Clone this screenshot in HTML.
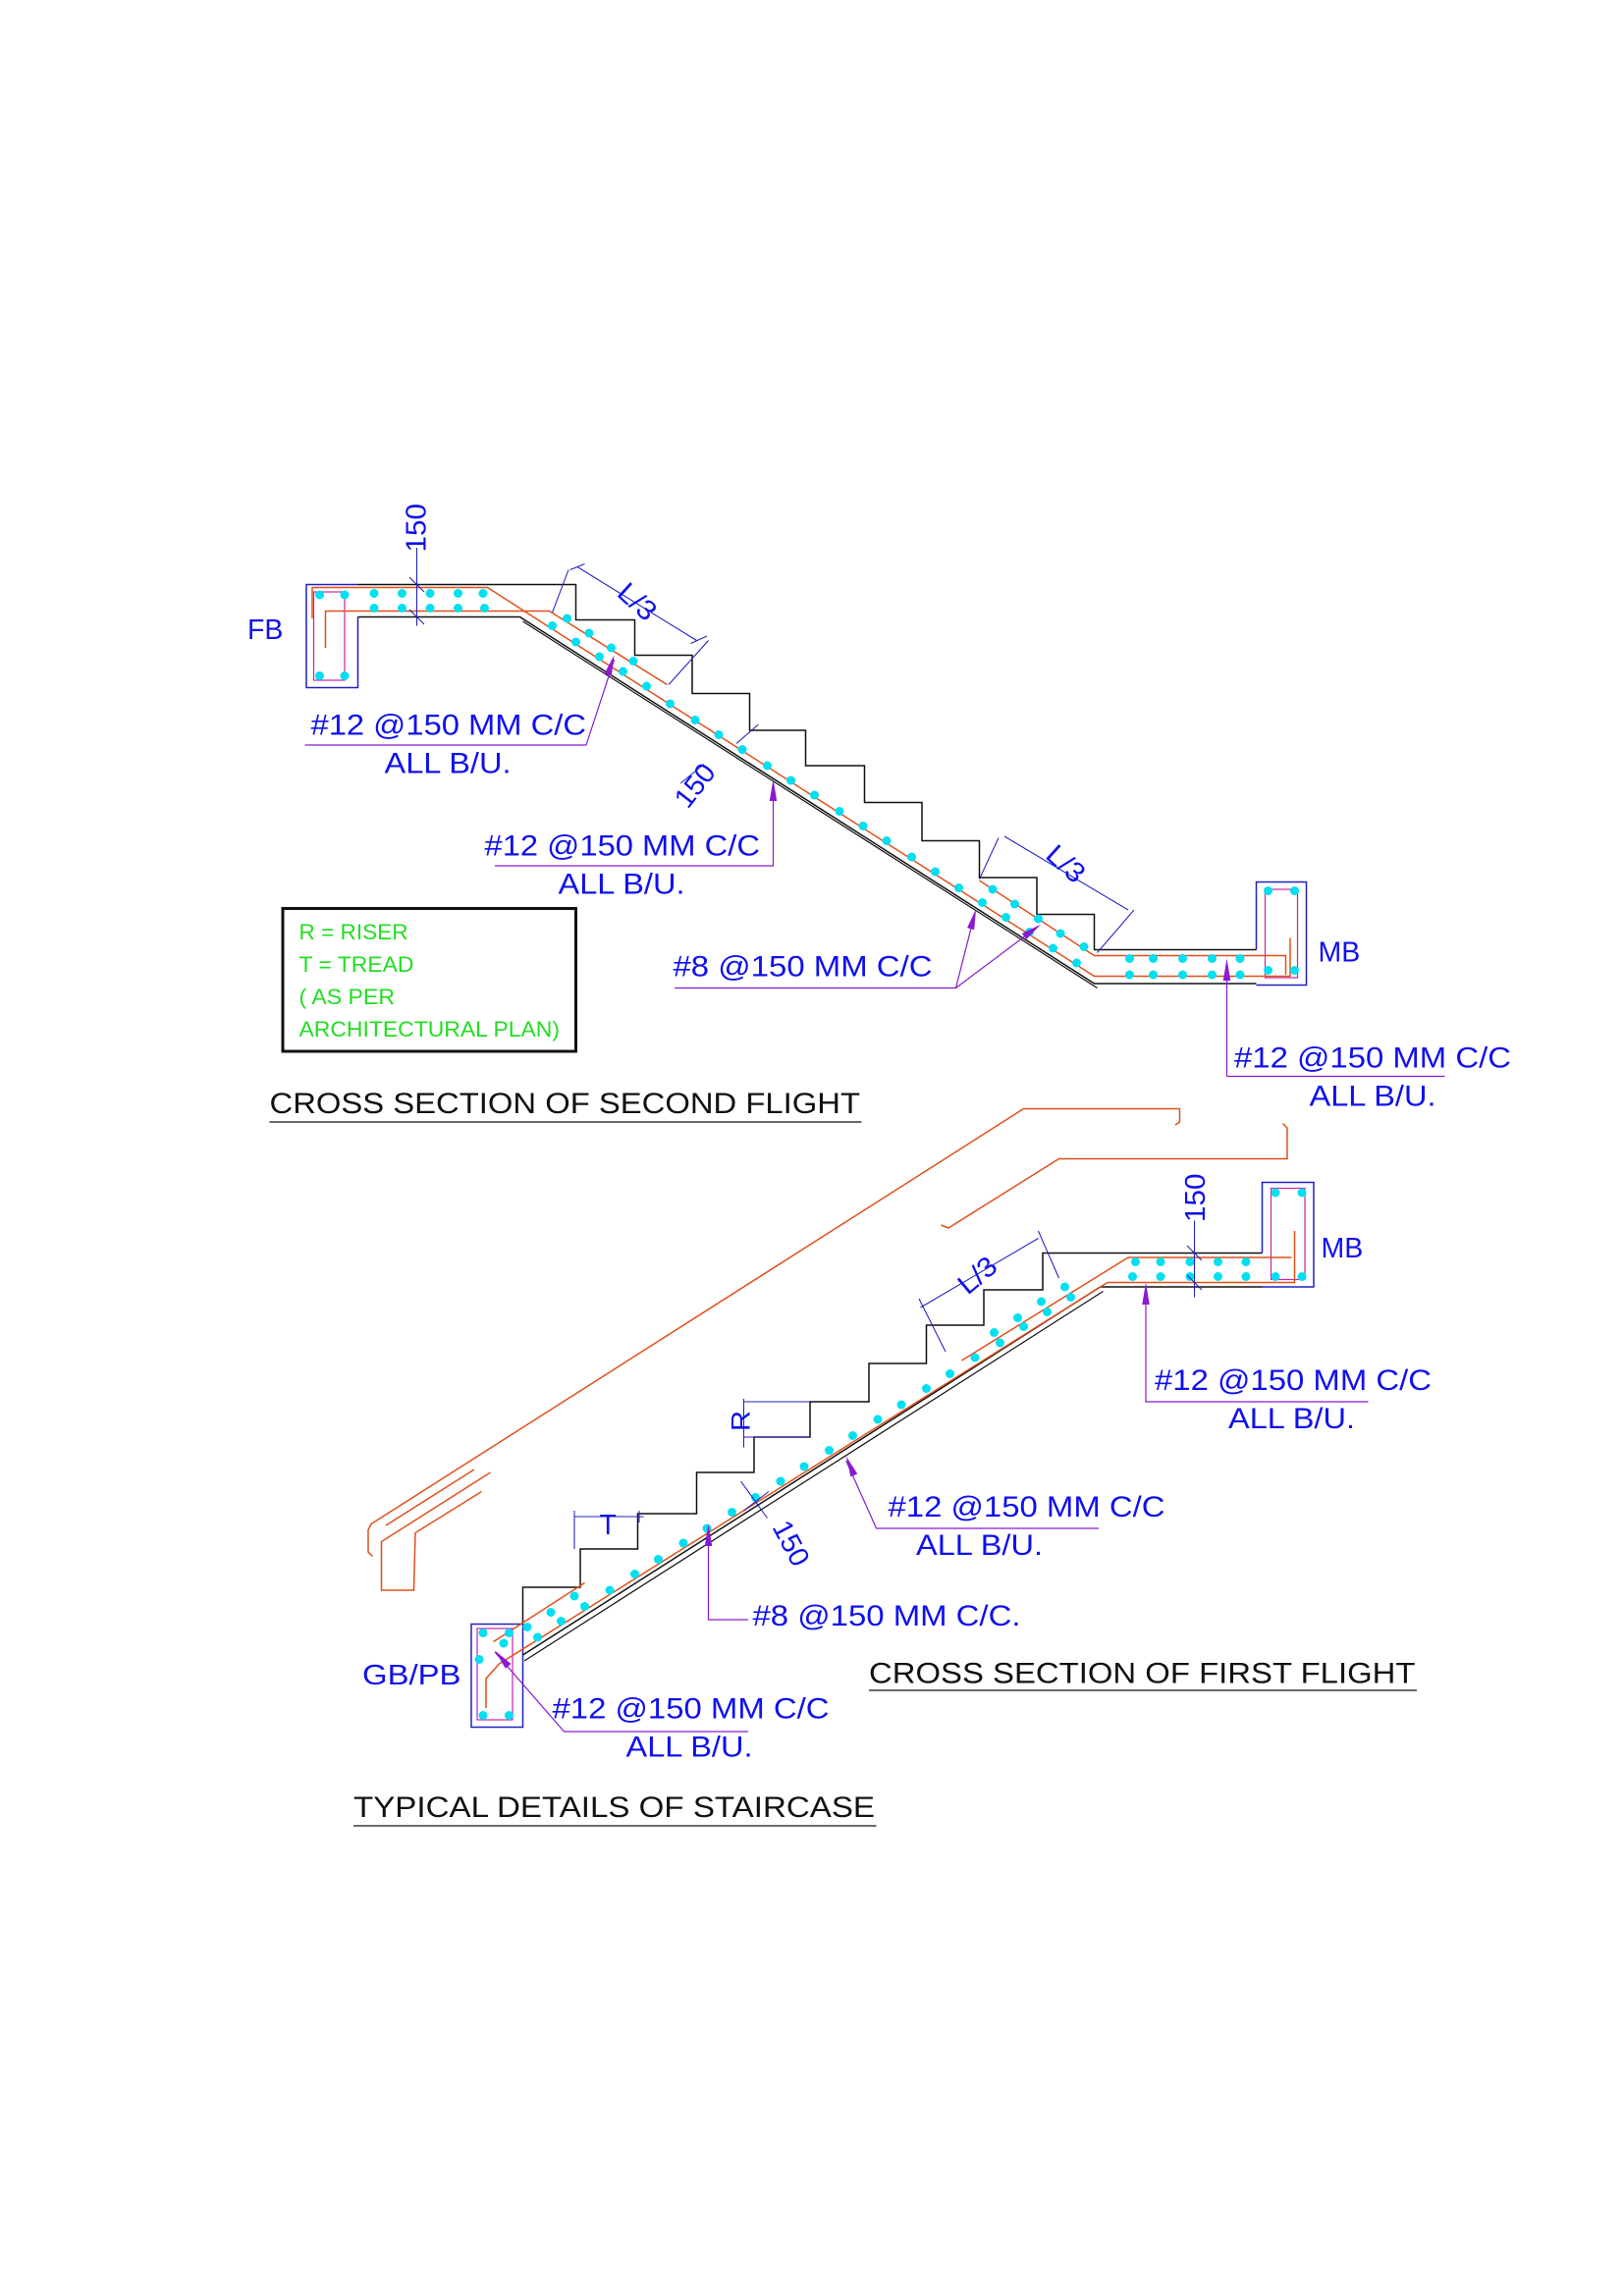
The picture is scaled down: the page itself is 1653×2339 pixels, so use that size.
<!DOCTYPE html>
<html><head><meta charset="utf-8"><style>
html,body{margin:0;padding:0;background:#fff;}
svg{display:block;}
text{font-family:"Liberation Sans",sans-serif;}
.b{fill:#1010ee;}
.k{fill:#111;}
.g{fill:#22dd22;}
</style></head><body>
<svg width="1653" height="2339" viewBox="0 0 1102 1559.33" preserveAspectRatio="none" xmlns="http://www.w3.org/2000/svg">
<rect width="1102" height="1560" fill="#fff"/>

<!-- ========== SECOND FLIGHT ========== -->
<!-- FB beam -->
<polyline points="243,397 208,397 208,467 243,467 243,419" fill="none" stroke="#2020c0" stroke-width="1"/>
<!-- slab & steps -->
<polyline points="243,397 391,397 391,421 431,421 431,445 470,445 470,471 509,471 509,496 547,496 547,520 587,520 587,545 626,545 626,571 665,571 665,596 704,596 704,621 743,621 743,645 853,645" fill="none" stroke="#111" stroke-width="1"/>
<polyline points="243,419 353,419 743,668 853,668" fill="none" stroke="#111" stroke-width="1"/>
<line x1="355" y1="422" x2="745" y2="671" stroke="#111" stroke-width="0.8"/>
<!-- MB beam -->
<polyline points="853,645 853,599 887,599 887,669 853,669" fill="none" stroke="#2020c0" stroke-width="1"/>
<!-- stirrups -->
<rect x="213" y="402" width="21" height="60" fill="none" stroke="#cc22aa" stroke-width="0.8"/>
<rect x="859" y="604" width="22" height="60" fill="none" stroke="#cc22aa" stroke-width="0.8"/>
<!-- orange bars -->
<polyline points="212,420 212,399 331,399 743,663 876,663 876,637" fill="none" stroke="#e0501a" stroke-width="1"/>
<polyline points="221,440 221,415 373,415 453,465" fill="none" stroke="#e0501a" stroke-width="1"/>
<polyline points="665,598 743,649 873,649 873,662" fill="none" stroke="#e0501a" stroke-width="1"/>
<!-- dots -->
<g fill="#00e0f0">
<circle cx="217" cy="404" r="3"/><circle cx="234" cy="404" r="3"/><circle cx="254" cy="403" r="3"/><circle cx="273" cy="403" r="3"/><circle cx="292" cy="403" r="3"/><circle cx="311" cy="403" r="3"/><circle cx="328" cy="403" r="3"/>
<circle cx="254" cy="413" r="3"/><circle cx="273" cy="413" r="3"/><circle cx="292" cy="413" r="3"/><circle cx="311" cy="413" r="3"/><circle cx="329" cy="413" r="3"/>
<circle cx="217" cy="459" r="3"/><circle cx="234" cy="459" r="3"/>
<circle cx="375" cy="425" r="3"/><circle cx="391" cy="436" r="3"/><circle cx="407" cy="446" r="3"/><circle cx="423" cy="456" r="3"/><circle cx="439" cy="466" r="3"/>
<circle cx="385" cy="420" r="3"/><circle cx="400" cy="430" r="3"/><circle cx="415" cy="440" r="3"/><circle cx="430" cy="449" r="3"/>
<circle cx="455" cy="478" r="3"/><circle cx="472" cy="489" r="3"/><circle cx="488" cy="499" r="3"/><circle cx="504" cy="509" r="3"/><circle cx="521" cy="520" r="3"/><circle cx="537" cy="530" r="3"/><circle cx="553" cy="540" r="3"/><circle cx="570" cy="551" r="3"/><circle cx="586" cy="561" r="3"/><circle cx="602" cy="571" r="3"/><circle cx="619" cy="582" r="3"/><circle cx="635" cy="592" r="3"/><circle cx="651" cy="603" r="3"/>
<circle cx="667" cy="613" r="3"/><circle cx="683" cy="623" r="3"/><circle cx="699" cy="633" r="3"/><circle cx="715" cy="644" r="3"/><circle cx="731" cy="654" r="3"/>
<circle cx="674" cy="604" r="3"/><circle cx="689" cy="614" r="3"/><circle cx="705" cy="624" r="3"/><circle cx="720" cy="634" r="3"/><circle cx="736" cy="643" r="3"/>
<circle cx="767" cy="651" r="3"/><circle cx="783" cy="651" r="3"/><circle cx="803" cy="651" r="3"/><circle cx="823" cy="651" r="3"/><circle cx="842" cy="651" r="3"/>
<circle cx="767" cy="662" r="3"/><circle cx="783" cy="662" r="3"/><circle cx="803" cy="662" r="3"/><circle cx="823" cy="662" r="3"/><circle cx="842" cy="662" r="3"/>
<circle cx="861" cy="605" r="3"/><circle cx="879" cy="605" r="3"/><circle cx="861" cy="659" r="3"/><circle cx="879" cy="659" r="3"/>
</g>
<!-- dims -->
<g stroke="#2020c0" stroke-width="0.7" fill="none">
<line x1="283" y1="372" x2="283" y2="425"/>
<line x1="278" y1="392" x2="288" y2="402"/><line x1="278" y1="414" x2="288" y2="424"/>
<line x1="392" y1="385" x2="473" y2="435"/>
<line x1="386" y1="387" x2="375" y2="416"/><line x1="481" y1="435" x2="454" y2="465"/>
<line x1="387" y1="387" x2="397" y2="383"/><line x1="469" y1="437" x2="480" y2="432"/>
<line x1="682" y1="568" x2="766" y2="618"/>
<line x1="678" y1="569" x2="665" y2="597"/><line x1="770" y1="618" x2="745" y2="647"/>
<line x1="500" y1="505" x2="515" y2="492"/><line x1="462" y1="532" x2="478" y2="519"/>
</g>
<text x="0" y="0" class="b" font-size="19" transform="translate(289,375) rotate(-90)" textLength="33" lengthAdjust="spacingAndGlyphs">150</text>
<text x="0" y="0" class="b" font-size="19" transform="translate(418,404) rotate(42)" textLength="28" lengthAdjust="spacingAndGlyphs">L/3</text>
<text x="0" y="0" class="b" font-size="19" transform="translate(709,582) rotate(42)" textLength="28" lengthAdjust="spacingAndGlyphs">L/3</text>
<text x="0" y="0" class="b" font-size="19" transform="translate(467,550) rotate(-52)" textLength="32" lengthAdjust="spacingAndGlyphs">150</text>
<text x="168" y="434" class="b" font-size="19">FB</text>
<text x="895" y="653" class="b" font-size="19">MB</text>
<!-- leaders -->
<g stroke="#8a1ad0" stroke-width="0.8" fill="none">
<polyline points="207,506 398,506 417,448"/>
<polyline points="336,588 525,588 525,533"/>
<polyline points="458,671 649,671 662,620"/>
<line x1="649" y1="671" x2="705" y2="629"/>
<polyline points="833,731 981,731"/><line x1="833" y1="731" x2="833" y2="655"/>
</g>
<g fill="#8a1ad0">
<polygon points="417,445 415.2,459 410.4,457.5"/>
<polygon points="525,529 522.5,544 527.5,544"/>
<polygon points="662.7,617.3 661.5,631.4 656.7,630.2"/>
<polygon points="706.7,627.8 696.9,638 693.9,634"/>
<polygon points="833,651 830.5,666 835.5,666"/>
</g>
<text x="211" y="499" class="b" font-size="20" textLength="187" lengthAdjust="spacingAndGlyphs">#12 @150 MM C/C</text>
<text x="261" y="525" class="b" font-size="20" textLength="86" lengthAdjust="spacingAndGlyphs">ALL B/U.</text>
<text x="329" y="581" class="b" font-size="20" textLength="187" lengthAdjust="spacingAndGlyphs">#12 @150 MM C/C</text>
<text x="379" y="607" class="b" font-size="20" textLength="86" lengthAdjust="spacingAndGlyphs">ALL B/U.</text>
<text x="457" y="663" class="b" font-size="20" textLength="176" lengthAdjust="spacingAndGlyphs">#8 @150 MM C/C</text>
<text x="838" y="725" class="b" font-size="20" textLength="188" lengthAdjust="spacingAndGlyphs">#12 @150 MM C/C</text>
<text x="889" y="751" class="b" font-size="20" textLength="86" lengthAdjust="spacingAndGlyphs">ALL B/U.</text>
<!-- legend -->
<rect x="192" y="617" width="199" height="97" fill="none" stroke="#111" stroke-width="2"/>
<text x="203" y="638" class="g" font-size="15" textLength="74" lengthAdjust="spacingAndGlyphs">R = RISER</text>
<text x="203" y="660" class="g" font-size="15" textLength="78" lengthAdjust="spacingAndGlyphs">T = TREAD</text>
<text x="203" y="682" class="g" font-size="15" textLength="65" lengthAdjust="spacingAndGlyphs">( AS PER</text>
<text x="203" y="704" class="g" font-size="15" textLength="177" lengthAdjust="spacingAndGlyphs">ARCHITECTURAL PLAN)</text>
<text x="183" y="756" class="k" font-size="20" textLength="401" lengthAdjust="spacingAndGlyphs">CROSS SECTION OF SECOND FLIGHT</text>
<line x1="183" y1="762" x2="585" y2="762" stroke="#111" stroke-width="0.8"/>

<!-- ========== HANDRAILS ========== -->
<g stroke="#e0501a" stroke-width="1" fill="none">
<polyline points="798,764 801,762 801,753 695,753 252,1035 250,1039 250,1054 253,1057"/>
<polyline points="871,763 874,766 874,787 719,787 644,834 639,832"/>
<polyline points="333,1000 259,1047 259,1080 281,1080 282,1041 327,1013"/>
<line x1="322" y1="998" x2="262" y2="1036"/>
</g>

<!-- ========== FIRST FLIGHT ========== -->
<polyline points="355,1124 355,1103 320,1103 320,1173 355,1173 355,1124" fill="none" stroke="#2020c0" stroke-width="1"/>
<polyline points="355,1103 355,1078 394,1078 394,1052 433,1052 433,1028 473,1028 473,1000 512,1000 512,976 550,976 550,952 590,952 590,926 629,926 629,900 668,900 668,876 708,876 708,851 857,851" fill="none" stroke="#111" stroke-width="1"/>
<polyline points="355,1124 747,874 857,874" fill="none" stroke="#111" stroke-width="1"/>
<line x1="356" y1="1128" x2="749" y2="877" stroke="#111" stroke-width="0.8"/>
<polyline points="857,851 857,803 892,803 892,874 857,874" fill="none" stroke="#2020c0" stroke-width="1"/>
<rect x="863" y="807" width="23" height="62" fill="none" stroke="#cc22aa" stroke-width="0.8"/>
<rect x="324" y="1106" width="24" height="62" fill="none" stroke="#cc22aa" stroke-width="0.8"/>
<g stroke="#e0501a" stroke-width="1" fill="none">
<polyline points="330,1160 330,1140 339,1130 752,871 879,871 879,836"/>
<polyline points="653,924 766,854 877,854"/>
<polyline points="335,1115 397,1075"/>
</g>
<g fill="#00e0f0">
<circle cx="328" cy="1109" r="3"/><circle cx="345.6" cy="1109" r="3"/><circle cx="342" cy="1116" r="3"/><circle cx="325.4" cy="1127" r="3"/><circle cx="328" cy="1165" r="3"/><circle cx="345.6" cy="1165" r="3"/>
<circle cx="358" cy="1105" r="3"/><circle cx="374" cy="1095" r="3"/><circle cx="390" cy="1084" r="3"/>
<circle cx="365" cy="1112" r="3"/><circle cx="381" cy="1101" r="3"/><circle cx="397" cy="1091" r="3"/>
<circle cx="414" cy="1080" r="3"/><circle cx="431" cy="1069" r="3"/><circle cx="447" cy="1059" r="3"/><circle cx="464" cy="1048" r="3"/><circle cx="480" cy="1038" r="3"/><circle cx="497" cy="1027" r="3"/><circle cx="513" cy="1017" r="3"/><circle cx="530" cy="1006" r="3"/><circle cx="546" cy="996" r="3"/><circle cx="563" cy="985" r="3"/><circle cx="579" cy="975" r="3"/><circle cx="596" cy="964" r="3"/><circle cx="612" cy="954" r="3"/><circle cx="629" cy="943" r="3"/><circle cx="645" cy="933" r="3"/><circle cx="662" cy="922" r="3"/>
<circle cx="675" cy="905" r="3"/><circle cx="691" cy="895" r="3"/><circle cx="707" cy="884" r="3"/><circle cx="723" cy="874" r="3"/>
<circle cx="679" cy="912" r="3"/><circle cx="695" cy="901" r="3"/><circle cx="711" cy="891" r="3"/><circle cx="727" cy="881" r="3"/>
<circle cx="771" cy="857" r="3"/><circle cx="788" cy="857" r="3"/><circle cx="808" cy="857" r="3"/><circle cx="827" cy="857" r="3"/><circle cx="846" cy="857" r="3"/>
<circle cx="769" cy="867" r="3"/><circle cx="788" cy="867" r="3"/><circle cx="808" cy="867" r="3"/><circle cx="827" cy="867" r="3"/><circle cx="846" cy="867" r="3"/><circle cx="866" cy="867" r="3"/><circle cx="884" cy="867" r="3"/>
<circle cx="866" cy="810" r="3"/><circle cx="884" cy="810" r="3"/>
</g>
<g stroke="#2020c0" stroke-width="0.7" fill="none">
<line x1="811" y1="829" x2="811" y2="881"/>
<line x1="806" y1="846" x2="816" y2="856"/><line x1="806" y1="866" x2="816" y2="876"/>
<line x1="625" y1="888" x2="705" y2="841"/>
<line x1="624" y1="882" x2="642" y2="918"/><line x1="705" y1="836" x2="719" y2="868"/>
<line x1="505" y1="950" x2="505" y2="983"/>
<line x1="505" y1="952" x2="550" y2="952"/><line x1="505" y1="976" x2="550" y2="976"/>
<line x1="390" y1="1030" x2="437" y2="1030"/>
<line x1="390" y1="1026" x2="390" y2="1052"/><line x1="434" y1="1026" x2="434" y2="1034"/>
<line x1="503" y1="1006" x2="521" y2="1031"/><line x1="505" y1="1026" x2="522" y2="1013"/>
</g>
<text x="0" y="0" class="b" font-size="19" transform="translate(818,830) rotate(-90)" textLength="33" lengthAdjust="spacingAndGlyphs">150</text>
<text x="0" y="0" class="b" font-size="19" transform="translate(657,880) rotate(-40)" textLength="28" lengthAdjust="spacingAndGlyphs">L/3</text>
<text x="0" y="0" class="b" font-size="18" transform="translate(509,972) rotate(-90)" textLength="14" lengthAdjust="spacingAndGlyphs">R</text>
<text x="407" y="1042" class="b" font-size="19">T</text>
<text x="0" y="0" class="b" font-size="19" transform="translate(524,1037) rotate(62)" textLength="32" lengthAdjust="spacingAndGlyphs">150</text>
<text x="897" y="854" class="b" font-size="19">MB</text>
<text x="246" y="1144" class="b" font-size="19" textLength="67" lengthAdjust="spacingAndGlyphs">GB/PB</text>
<g stroke="#8a1ad0" stroke-width="0.8" fill="none">
<polyline points="929,952 778,952 778,876"/>
<polyline points="746,1038 595,1038 574.5,992"/>
<polyline points="508,1100 481,1100 481,1040"/>
<polyline points="508,1176 383,1176 336,1122"/>
</g>
<g fill="#8a1ad0">
<polygon points="778,871 775.5,886 780.5,886"/>
<polygon points="574.5,989 582.2,1001 577.6,1003"/>
<polygon points="481,1035 478.5,1050 483.5,1050"/>
<polygon points="336,1121 347,1130 343.2,1133.2"/>
</g>
<text x="784" y="944" class="b" font-size="20" textLength="188" lengthAdjust="spacingAndGlyphs">#12 @150 MM C/C</text>
<text x="834" y="970" class="b" font-size="20" textLength="86" lengthAdjust="spacingAndGlyphs">ALL B/U.</text>
<text x="603" y="1030" class="b" font-size="20" textLength="188" lengthAdjust="spacingAndGlyphs">#12 @150 MM C/C</text>
<text x="622" y="1056" class="b" font-size="20" textLength="86" lengthAdjust="spacingAndGlyphs">ALL B/U.</text>
<text x="511" y="1104" class="b" font-size="20" textLength="182" lengthAdjust="spacingAndGlyphs">#8 @150 MM C/C.</text>
<text x="375" y="1167" class="b" font-size="20" textLength="188" lengthAdjust="spacingAndGlyphs">#12 @150 MM C/C</text>
<text x="425" y="1193" class="b" font-size="20" textLength="86" lengthAdjust="spacingAndGlyphs">ALL B/U.</text>
<text x="590" y="1143" class="k" font-size="20" textLength="371" lengthAdjust="spacingAndGlyphs">CROSS SECTION OF FIRST FLIGHT</text>
<line x1="590" y1="1148" x2="962" y2="1148" stroke="#111" stroke-width="0.8"/>
<text x="240" y="1234" class="k" font-size="20" textLength="354" lengthAdjust="spacingAndGlyphs">TYPICAL DETAILS OF STAIRCASE</text>
<line x1="240" y1="1240" x2="595" y2="1240" stroke="#111" stroke-width="0.8"/>
</svg>
</body></html>
